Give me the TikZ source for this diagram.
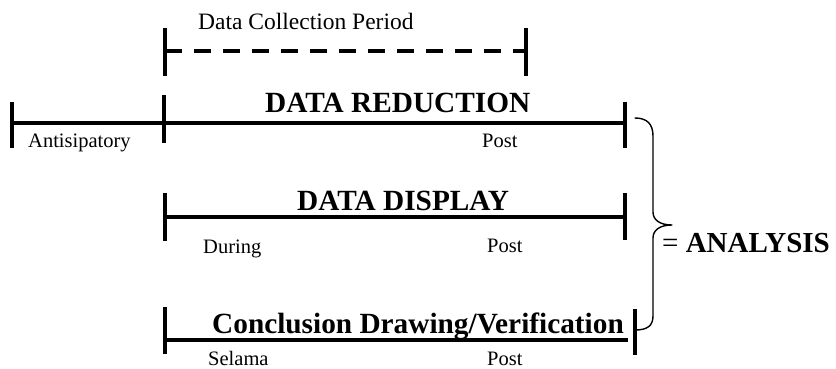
\documentclass[tikz,border=0pt]{standalone}
\usepackage{fontspec}
\setmainfont{Liberation Serif}
\begin{document}
\begin{tikzpicture}[x=1pt,y=-1pt,
  bar/.style={line width=4pt},
  dashbar/.style={line width=4pt, dash pattern=on 17pt off 12pt},
  tickmark/.style={line width=4pt},
  bracepath/.style={line width=1.4pt, line cap=round, line join=round},
  lbl/.style={anchor=base west, inner sep=0pt, font=\fontsize{20.5}{24}\selectfont},
  periodlbl/.style={anchor=base west, inner sep=0pt, font=\fontsize{23.5}{28}\selectfont},
  ttl/.style={anchor=base west, inner sep=0pt, font=\fontsize{29.3}{34}\selectfont\bfseries}]
\useasboundingbox (0,0) rectangle (836,369);

% ---- data collection period (dashed) ----
\coordinate (dcL) at (165,51);   \coordinate (dcR) at (526,51);
\coordinate (dcLt) at (165,28);  \coordinate (dcLb) at (165,76);
\coordinate (dcRt) at (526,28);  \coordinate (dcRb) at (526,76);
\draw[dashbar] (dcL) -- (dcR);
\draw[tickmark] (dcLt) -- (dcLb);
\draw[tickmark] (dcRt) -- (dcRb);
\node[periodlbl] (dcText) at (198,30) {Data Collection Period};

% ---- data reduction ----
\coordinate (rdL) at (12,123);   \coordinate (rdR) at (625,123);
\coordinate (rdLt) at (12,102);  \coordinate (rdLb) at (12,148);
\coordinate (rdMt) at (164,95);  \coordinate (rdMb) at (164,143);
\coordinate (rdRt) at (625,102); \coordinate (rdRb) at (625,148);
\draw[bar] (rdL) -- (rdR);
\draw[tickmark] (rdLt) -- (rdLb);
\draw[tickmark] (rdMt) -- (rdMb);
\draw[tickmark] (rdRt) -- (rdRb);
\node[ttl] (rdTitle) at (265,113) {DATA REDUCTION};
\node[lbl] (rdAnt) at (28,147) {Antisipatory};
\node[lbl] (rdPost) at (482,147) {Post};

% ---- data display ----
\coordinate (dpL) at (165,217);  \coordinate (dpR) at (625,217);
\coordinate (dpLt) at (165,193); \coordinate (dpLb) at (165,241);
\coordinate (dpRt) at (625,193); \coordinate (dpRb) at (625,240);
\draw[bar] (dpL) -- (dpR);
\draw[tickmark] (dpLt) -- (dpLb);
\draw[tickmark] (dpRt) -- (dpRb);
\node[ttl] (dpTitle) at (297,210) {DATA DISPLAY};
\node[lbl] (dpDuring) at (203,253) {During};
\node[lbl] (dpPost) at (487,252) {Post};

% ---- conclusion drawing / verification ----
\coordinate (cdL) at (165,340);  \coordinate (cdR) at (628,340);
\coordinate (cdLt) at (165,307); \coordinate (cdLb) at (165,354);
\coordinate (cdRt) at (635,309); \coordinate (cdRb) at (635,355);
\draw[bar] (cdL) -- (cdR);
\draw[tickmark] (cdLt) -- (cdLb);
\draw[tickmark] (cdRt) -- (cdRb);
\node[ttl] (cdTitle) at (212,333) {Conclusion Drawing/Verification};
\node[lbl] (cdSelama) at (208,365) {Selama};
\node[lbl] (cdPost) at (487,365) {Post};

% ---- brace grouping the three streams ----
\coordinate (brTop) at (635,118);
\coordinate (brTip) at (672,225);
\coordinate (brBot) at (635,330);
\draw[bracepath] (brTop) .. controls (647,118) and (653,124) .. (653,136)
  -- (653,212) .. controls (653,220) and (660,225) .. (brTip)
  .. controls (660,225) and (653,230) .. (653,238)
  -- (653,316) .. controls (653,326) and (647,330) .. (brBot);
\node[anchor=base west, inner sep=0pt, font=\fontsize{29}{34}\selectfont] (analysis) at (662,252) {= \textbf{ANALYSIS}};
\end{tikzpicture}
\end{document}
